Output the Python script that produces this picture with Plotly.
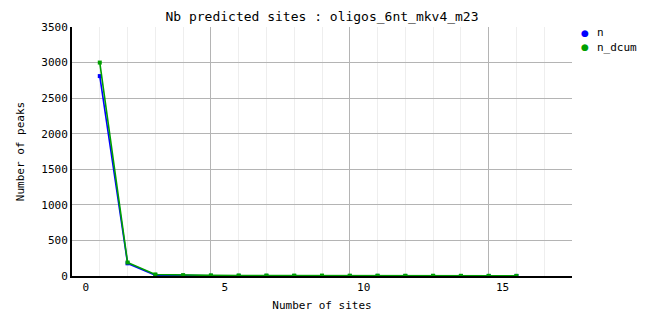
import plotly.graph_objects as go

sites = [0.5, 1.5, 2.5, 3.5, 4.5, 5.5, 6.5, 7.5, 8.5, 9.5, 10.5, 11.5, 12.5, 13.5, 14.5, 15.5]
n_vals = [2810, 178, 12, 3, 2, 1, 1, 0, 0, 0, 1, 0, 0, 0, 0, 1]
n_dcum_vals = [3000, 190, 22, 12, 9, 8, 7, 6, 6, 5, 5, 4, 4, 3, 3, 2]
x_ticks = [0, 5, 10, 15]
y_ticks = [0, 500, 1000, 1500, 2000, 2500, 3000, 3500]
series_names = ["n", "n_dcum"]

FONT = "DejaVu Sans Mono"
BLUE = "#0000ff"
GREEN = "#00a000"
W, H = 662, 328

fig = go.Figure()
for name, vals, col in [(series_names[0], n_vals, BLUE), (series_names[1], n_dcum_vals, GREEN)]:
    fig.add_trace(go.Scatter(x=sites, y=vals, mode="lines+markers", name=name,
                             line=dict(color=col, width=1.6),
                             marker=dict(color=col, size=4, symbol="square"),
                             showlegend=False))
# helper trace for overlay axis carrying the major vertical grid
fig.add_trace(go.Scatter(x=[None], y=[None], xaxis="x2", showlegend=False, hoverinfo="skip"))

# manual legend (dot + label)
for i, (name, col) in enumerate(zip(series_names, [BLUE, GREEN])):
    ypix = 33 + 14 * i
    fig.add_annotation(xref="paper", yref="paper", x=(585 - 72) / 500, y=1 - (ypix - 27) / 249,
                       text="●", showarrow=False, xanchor="center", yanchor="middle",
                       font=dict(family="DejaVu Sans", size=9, color=col))
    fig.add_annotation(xref="paper", yref="paper", x=(595 - 72) / 500, y=1 - (ypix - 27) / 249,
                       text=name, showarrow=False, xanchor="left", yanchor="middle",
                       font=dict(family=FONT, size=11, color="black"))

fig.update_layout(
    width=W, height=H,
    margin=dict(l=72, r=90, t=27, b=52),
    paper_bgcolor="white", plot_bgcolor="white",
    showlegend=False,
    font=dict(family=FONT, size=11, color="black"),
    title=dict(text="Nb predicted sites : oligos_6nt_mkv4_m23", x=322 / W, xanchor="center",
               y=1 - 16 / H, yanchor="middle", font=dict(family=FONT, size=13, color="black")),
    xaxis=dict(range=[-0.5, 17.5], tickvals=x_ticks, ticktext=[str(v) for v in x_ticks],
               showgrid=False, zeroline=False, showline=True, linecolor="black", linewidth=2,
               ticks="", ticklen=0,
               minor=dict(tick0=0.5, dtick=1, showgrid=True, gridcolor="#eeeeee", gridwidth=1, ticks=""),
               title=dict(text="Number of sites", font=dict(family=FONT, size=11), standoff=8),
               tickfont=dict(family=FONT, size=11)),
    xaxis2=dict(range=[-0.5, 17.5], overlaying="x", side="bottom", tickvals=[4.5, 9.5, 14.5],
                showticklabels=False, showgrid=True, gridcolor="#b4b4b4", gridwidth=1,
                zeroline=False, showline=False, ticks=""),
    yaxis=dict(range=[0, 3500], tickvals=y_ticks, showgrid=True, gridcolor="#b4b4b4", gridwidth=1,
               zeroline=False, showline=True, linecolor="black", linewidth=2, ticks="",
               title=dict(text="Number of peaks", font=dict(family=FONT, size=11), standoff=14),
               tickfont=dict(family=FONT, size=11)),
)

fig.write_html("out.html")
